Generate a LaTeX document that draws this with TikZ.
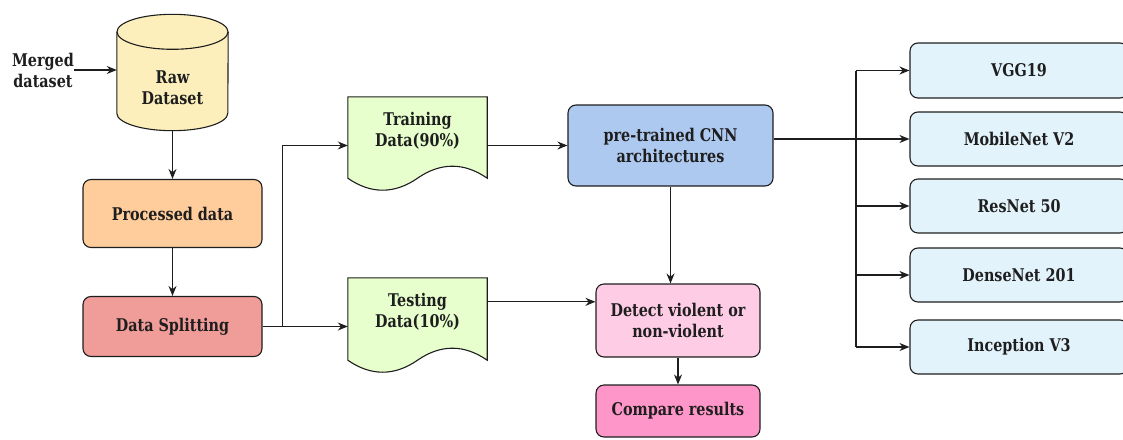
\documentclass[tikz,border=0pt]{standalone}
\usepackage{fontspec}
\setmainfont{DejaVu Serif}[FakeStretch=0.82]
\usetikzlibrary{arrows.meta,calc,backgrounds}

\definecolor{linec}{HTML}{1E1E1E}
\definecolor{rawfill}{HTML}{FCEFBC}
\definecolor{procfill}{HTML}{FFCC9C}
\definecolor{splitfill}{HTML}{F09C99}
\definecolor{docfill}{HTML}{E6FFCC}
\definecolor{cnnfill}{HTML}{AEC9F0}
\definecolor{detfill}{HTML}{FFCCE6}
\definecolor{cmpfill}{HTML}{FF96C9}
\definecolor{modfill}{HTML}{E3F3FC}

\tikzset{
  txt/.style={font=\fontsize{17.5}{21}\selectfont\bfseries, text=linec, align=center, inner sep=0pt},
  box/.style={txt, draw=linec, line width=1.1pt, rounded corners=8pt},
  holder/.style={draw=none, inner sep=0pt},
  shapeline/.style={draw=linec, line width=1.1pt},
  arr/.style={draw=linec, line width=1.1pt, -{Stealth[length=10pt,width=8pt]}},
  plain/.style={draw=linec, line width=1.1pt},
}

\begin{document}
\begin{tikzpicture}[x=1pt,y=-1pt]
\useasboundingbox (0,0) rectangle (1123,439);

% storage cylinder
\node[holder, minimum width=111, minimum height=81] (raw) at (172.5,72.5) {};
\begin{scope}[on background layer]
  \path[fill=rawfill] (raw.north west) -- (raw.south west)
    arc[start angle=180, end angle=360, x radius=55.5pt, y radius=17.5pt]
    -- (raw.north east)
    arc[start angle=0, end angle=180, x radius=55.5pt, y radius=17.5pt] -- cycle;
  \draw[shapeline] (raw.north west) -- (raw.south west)
    arc[start angle=180, end angle=360, x radius=55.5pt, y radius=17.5pt]
    -- (raw.north east);
  \draw[shapeline] (raw.north) ellipse [x radius=55.5pt, y radius=17.5pt];
\end{scope}
\node[txt] (rawlbl) at (172.5,88) {Raw\\Dataset};
\coordinate (rawbot) at ($(raw.south)+(0,17.5)$);

\node[txt] (merged) at (43,70) {Merged\\dataset};

% processing boxes
\node[box, fill=procfill, minimum width=179, minimum height=68] (proc) at (172.5,213.5) {Processed data};
\node[box, fill=splitfill, minimum width=179, minimum height=60] (split) at (172.5,326.5) {Data Splitting};

% document shapes
\node[holder, minimum width=139, minimum height=81] (train) at (417.5,137.5) {};
\node[holder, minimum width=139, minimum height=82] (test) at (417.5,319) {};
\begin{scope}[on background layer]
  \foreach \d in {train,test}{
    \draw[shapeline, fill=docfill] (\d.south west)
      .. controls ($(\d.south west)+(23,16)$) and ($(\d.south)+(-23,16)$) .. (\d.south)
      .. controls ($(\d.south)+(23,-16)$) and ($(\d.south east)+(-23,-16)$) .. (\d.south east)
      -- (\d.north east) -- (\d.north west) -- cycle;
  }
\end{scope}
\node[txt] (trainlbl) at (417.5,131) {Training\\Data(90\%)};
\node[txt] (testlbl) at (417.5,312) {Testing\\Data(10\%)};
\coordinate (trainin) at ($(train.west)+(0,8)$);
\coordinate (testout) at ($(test.north east)+(0,24)$);

% model and results
\node[box, fill=cnnfill, minimum width=205, minimum height=81] (cnn) at (670.5,145.5) {pre-trained CNN\\architectures};
\node[box, fill=detfill, minimum width=164, minimum height=73] (det) at (678,320.5) {Detect violent or\\non-violent};
\node[box, fill=cmpfill, minimum width=164, minimum height=52] (cmp) at (678,411) {Compare results};

% architecture list
\node[box, fill=modfill, minimum width=218, minimum height=55] (vgg) at (1019,70.5) {VGG19};
\node[box, fill=modfill, minimum width=218, minimum height=54] (mob) at (1019,139) {MobileNet V2};
\node[box, fill=modfill, minimum width=218, minimum height=54] (res) at (1019,206) {ResNet 50};
\node[box, fill=modfill, minimum width=218, minimum height=54] (den) at (1019,275) {DenseNet 201};
\node[box, fill=modfill, minimum width=218, minimum height=54] (inc) at (1019,347) {Inception V3};
\coordinate (bus) at (856,0);

% connectors
\draw[arr] (merged.east) -- (merged.east -| raw.west);
\draw[arr] (rawbot) -- (rawbot |- proc.north);
\draw[arr] (proc.south -| rawbot) -- (split.north -| rawbot);
\draw[arr] (split.east) -- ++(20,0) |- (trainin);
\draw[arr] (split.east) -- (split.east -| test.west);
\draw[arr] (trainin -| train.east) -- (trainin -| cnn.west);
\draw[arr] (testout) -- (testout -| det.west);
\draw[arr] (cnn.south) -- (cnn.south |- det.north);
\draw[arr] (det.south) -- (cmp.north);
\draw[arr] (mob.west -| cnn.east) -- (mob.west);
\draw[plain] (bus |- vgg.west) -- (bus |- inc.west);
\foreach \m in {vgg,res,den,inc}
  \draw[arr] (bus |- \m.west) -- (\m.west);
\end{tikzpicture}
\end{document}
